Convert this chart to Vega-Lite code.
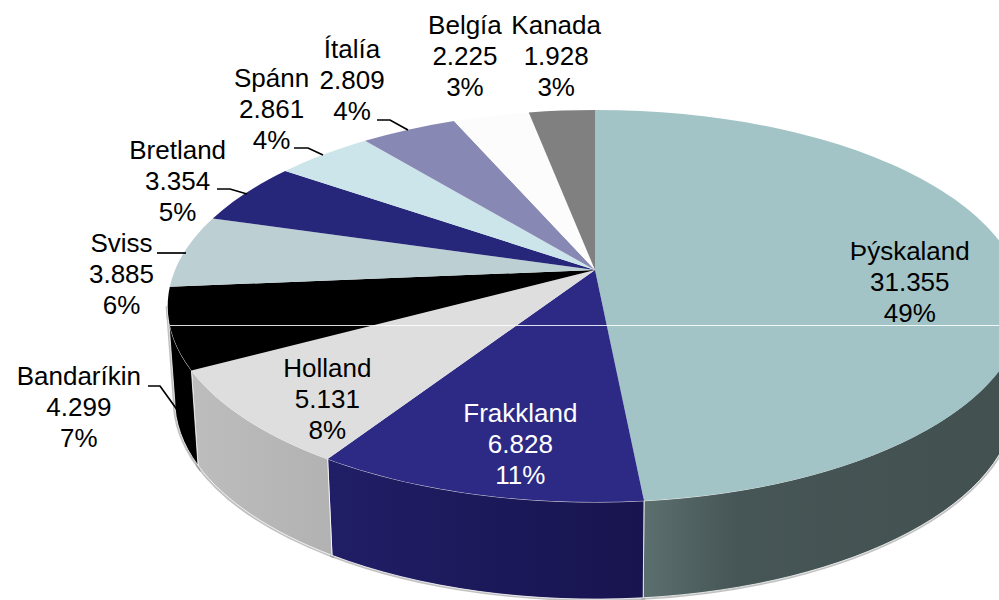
{
  "$schema": "https://vega.github.io/schema/vega-lite/v6.json",
  "width": 999,
  "height": 600,
  "padding": 0,
  "autosize": {"type": "none"},
  "background": "#ffffff",
  "view": {"stroke": null},
  "params": [
    {"name": "ox", "value": 95.5},
    {"name": "oy", "value": -30},
    {"name": "ra", "value": 420},
    {"name": "rb", "value": 189.4},
    {"name": "rk", "value": 0.184}
  ],
  "data": {"values": [
    {"country": "Þýskaland", "value": 31355, "pct": 49},
    {"country": "Frakkland", "value": 6828, "pct": 11},
    {"country": "Holland", "value": 5131, "pct": 8},
    {"country": "Bandaríkin", "value": 4299, "pct": 7},
    {"country": "Sviss", "value": 3885, "pct": 6},
    {"country": "Bretland", "value": 3354, "pct": 5},
    {"country": "Spánn", "value": 2861, "pct": 4},
    {"country": "Ítalía", "value": 2809, "pct": 4},
    {"country": "Belgía", "value": 2225, "pct": 3},
    {"country": "Kanada", "value": 1928, "pct": 3}
  ]},
  "transform": [
    {"joinaggregate": [{"op": "sum", "field": "value", "as": "total"}]},
    {"window": [{"op": "sum", "field": "value", "as": "cum"}], "sort": [{"field": "value", "order": "descending"}]},
    {"calculate": "2*PI*(datum.cum-datum.value)/datum.total", "as": "t0"},
    {"calculate": "2*PI*datum.cum/datum.total", "as": "t1"},
    {"calculate": "max(datum.t0,1.756)", "as": "w0"},
    {"calculate": "min(datum.t1,4.527)", "as": "w1"},
    {"calculate": "ra*sin(datum.t0)/(1+rk*cos(datum.t0))", "as": "x0"},
    {"calculate": "-rb*cos(datum.t0)/(1+rk*cos(datum.t0))", "as": "y0"},
    {"calculate": "ra*sin(datum.t1)/(1+rk*cos(datum.t1))", "as": "x1"},
    {"calculate": "-rb*cos(datum.t1)/(1+rk*cos(datum.t1))", "as": "y1"},
    {"calculate": "ra*sin(datum.w0)/(1+rk*cos(datum.w0))", "as": "wx0"},
    {"calculate": "-rb*cos(datum.w0)/(1+rk*cos(datum.w0))", "as": "wy0"},
    {"calculate": "ra*sin(datum.w1)/(1+rk*cos(datum.w1))", "as": "wx1"},
    {"calculate": "-rb*cos(datum.w1)/(1+rk*cos(datum.w1))", "as": "wy1"},
    {"calculate": "'M'+ox+' '+oy+' L'+round((datum.x0+ox)*100)/100+' '+round((datum.y0+oy)*100)/100+' A427 196 0 0 1 '+round((datum.x1+ox)*100)/100+' '+round((datum.y1+oy)*100)/100+' Z'", "as": "topPath"},
    {"calculate": "'M'+round((datum.wx0+ox)*100)/100+' '+round((datum.wy0+oy)*100)/100+' A427 196 0 0 1 '+round((datum.wx1+ox)*100)/100+' '+round((datum.wy1+oy)*100)/100+' L'+round((datum.wx1*420/427+ox)*100)/100+' '+round((130+(datum.wy1-36)*199/196+oy)*100)/100+' A420 199 0 0 0 '+round((datum.wx0*420/427+ox)*100)/100+' '+round((130+(datum.wy0-36)*199/196+oy)*100)/100+' Z'", "as": "wallPath"},
    {"calculate": "{'Þýskaland':{gradient:'linear',x1:0,y1:0,x2:1,y2:0,stops:[{offset:0,color:'#5c6f6f'},{offset:0.25,color:'#465555'},{offset:1,color:'#425050'}]},'Frakkland':{gradient:'linear',x1:0,y1:0,x2:1,y2:0,stops:[{offset:0,color:'#201e66'},{offset:1,color:'#18144f'}]},'Holland':{gradient:'linear',x1:0,y1:0,x2:1,y2:0,stops:[{offset:0,color:'#bdbdbd'},{offset:1,color:'#b2b2b2'}]},'Bandaríkin':'#000000'}[datum.country]", "as": "wallFill"},
    {"calculate": "{'Þýskaland':[95.2,0.74],'Frakkland':[190.9,0.77],'Holland':[222.9,0.81],'Bandaríkin':[239.3,1.295],'Sviss':[268.7,1.123],'Bretland':[295.1,1.183],'Spánn':[317.7,1.3],'Ítalía':[329.9,1.337],'Belgía':[344.6,1.373],'Kanada':[355.3,1.335]}[datum.country]", "as": "polar"},
    {"calculate": "datum.polar[0]*PI/180", "as": "lt"},
    {"calculate": "499.5+ox+datum.polar[1]*ra*sin(datum.lt)/(1+rk*cos(datum.lt))", "as": "lx"},
    {"calculate": "300+oy-datum.polar[1]*rb*cos(datum.lt)/(1+rk*cos(datum.lt))", "as": "ly"},
    {"calculate": "datum.country+'\\n'+replace(format(datum.value,','),',','.')+'\\n'+datum.pct+'%'", "as": "label"},
    {"calculate": "{'Bandaríkin':'M-351.5 86 H-339.5 L-316.5 118','Sviss':'M-342.5 -47 H-313.5','Bretland':'M-282.5 -111 H-269.5 L-252.5 -106','Spánn':'M-205.5 -152 H-191.5 L-176.5 -145','Ítalía':'M-122.5 -180 H-109.5 L-91.5 -170'}[datum.country]", "as": "leader"}
  ],
  "layer": [
    {
      "transform": [{"filter": "datum.t1>1.756 && datum.t0<4.527"}],
      "mark": {"type": "point", "filled": false, "size": 4, "opacity": 0.45, "stroke": "#777777", "strokeWidth": 4},
      "encoding": {"shape": {"field": "wallPath", "type": "nominal", "scale": null, "legend": null}}
    },
    {
      "transform": [{"filter": "datum.t1>1.756 && datum.t0<4.527"}],
      "mark": {"type": "point", "filled": true, "size": 4, "opacity": 1, "stroke": "#ffffff", "strokeWidth": 0.8},
      "encoding": {
        "shape": {"field": "wallPath", "type": "nominal", "scale": null, "legend": null},
        "fill": {"field": "wallFill", "type": "nominal", "scale": null, "legend": null}
      }
    },
    {
      "mark": {"type": "point", "filled": true, "size": 4, "opacity": 1, "strokeWidth": 0},
      "encoding": {
        "shape": {"field": "topPath", "type": "nominal", "scale": null, "legend": null},
        "color": {
          "field": "country",
          "type": "nominal",
          "legend": null,
          "scale": {
            "domain": ["Þýskaland", "Frakkland", "Holland", "Bandaríkin", "Sviss", "Bretland", "Spánn", "Ítalía", "Belgía", "Kanada"],
            "range": ["#a3c4c6", "#2d2a86", "#dedede", "#000000", "#bccfd3", "#26267a", "#cce5ea", "#8888b4", "#fcfcfc", "#808080"]
          }
        }
      }
    },
    {
      "transform": [{"filter": "datum.leader"}],
      "mark": {"type": "point", "filled": false, "size": 4, "opacity": 1, "stroke": "#000000", "strokeWidth": 1.7},
      "encoding": {"shape": {"field": "leader", "type": "nominal", "scale": null, "legend": null}}
    },
    {
      "transform": [{"filter": "datum.country === 'Þýskaland'"}],
      "mark": {"type": "point", "filled": false, "size": 4, "opacity": 0.85, "stroke": "#ffffff", "strokeWidth": 1, "shape": "M-329.5 25.5 H499.5"}
    },
    {
      "mark": {"type": "text", "font": "Liberation Sans", "fontSize": 26, "lineHeight": 31, "lineBreak": "\n", "align": "center", "baseline": "middle", "dy": -31},
      "encoding": {
        "x": {"field": "lx", "type": "quantitative", "scale": null},
        "y": {"field": "ly", "type": "quantitative", "scale": null},
        "text": {"field": "label", "type": "nominal"},
        "color": {"condition": {"test": "datum.country === 'Frakkland'", "value": "#ffffff"}, "value": "#000000"}
      }
    }
  ]
}
